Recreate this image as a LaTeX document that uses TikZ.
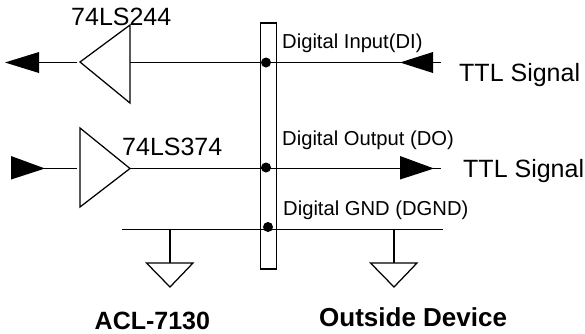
\documentclass[tikz,border=0pt]{standalone}
\usepackage{fontspec}
\setmainfont{Liberation Sans}
\tikzset{
  wire/.style={draw=black,line width=1.25pt},
  lbl/.style={inner sep=0pt,anchor=base west,text=black},
  small/.style={lbl,font=\fontsize{20.2}{23}\selectfont},
  big/.style={lbl,font=\fontsize{25}{28}\selectfont},
  head/.style={lbl,font=\fontsize{25}{28}\selectfont\bfseries},
  headwide/.style={lbl,font=\fontsize{26}{29}\selectfont\bfseries},
  dotm/.style={circle,fill=black,inner sep=0pt,minimum size=10pt},
  tip/.style={fill=black,draw=none}
}
\begin{document}
\begin{tikzpicture}[x=1pt,y=-1pt]
\useasboundingbox (0,0) rectangle (585,333);
% connector bar
\draw[wire] (260.5,23) rectangle (276.5,269);
% buffers
\draw[wire,line join=miter] (130,25) -- (80,62) -- (130,103) -- cycle;
\draw[wire,line join=miter] (80,128) -- (130,168.5) -- (80,207) -- cycle;
% dots
\node[dotm] (d1) at (266,62.5) {};
\node[dotm] (d2) at (266,167.5) {};
\node[dotm] (d3) at (268,227) {};
% free ends
\coordinate (b1) at (130,62.5);
\coordinate (e1) at (441,62.5);
\coordinate (b2) at (130,168.5);
\coordinate (e2) at (441,168.5);
\coordinate (g1) at (122,229.4);
\coordinate (g2) at (443,229.4);
\coordinate (l1a) at (77,62.5);
\coordinate (l1b) at (39,62.5);
\coordinate (l2a) at (77,168.5);
\coordinate (l2b) at (44,168.5);
\draw[wire] (b1) -- (e1);
\draw[wire] (b2) -- (e2);
\draw[wire] (g1) -- (g2);
\draw[wire] (l1a) -- (l1b);
\draw[wire] (l2a) -- (l2b);
% arrowheads
\fill[tip] (5,62.5) -- (39,52) -- (39,73) -- cycle;
\fill[tip] (400,62.5) -- (433,52) -- (433,73) -- cycle;
\fill[tip] (45,168.5) -- (11,156) -- (11,179.5) -- cycle;
\fill[tip] (434,168.5) -- (400,156) -- (400,179.5) -- cycle;
% grounds
\coordinate (gt1) at (170,229.4);
\coordinate (gb1) at (170,263);
\coordinate (gt2) at (394,229.4);
\coordinate (gb2) at (394,263);
\draw[wire] (gt1) -- (gb1);
\draw[wire] (gt2) -- (gb2);
\draw[wire,line join=miter] (146.5,263) -- (193,263) -- (170,287) -- cycle;
\draw[wire,line join=miter] (370.5,263) -- (417,263) -- (394,287) -- cycle;
% labels
\node[big] (t1) at (71,25) {74LS244};
\node[big] (t2) at (122,155) {74LS374};
\node[small] (di) at (282,48) {Digital Input(DI)};
\node[small] (do) at (282,145) {Digital Output (DO)};
\node[small] (dg) at (283,215) {Digital GND (DGND)};
\node[big] (s1) at (459,81) {TTL Signal};
\node[big] (s2) at (463,177) {TTL Signal};
\node[head] (a) at (94.5,329.5) {ACL-7130};
\node[headwide] (o) at (319,326.5) {Outside Device};
\end{tikzpicture}
\end{document}
